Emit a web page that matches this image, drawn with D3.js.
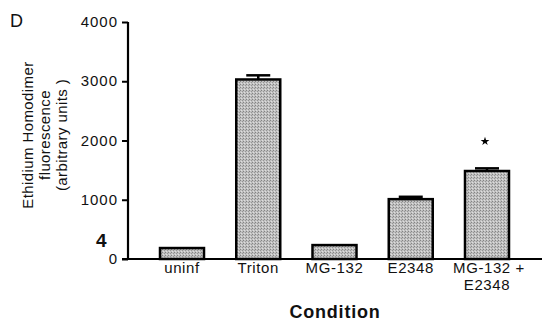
<!DOCTYPE html>
<html>
<head>
<meta charset="utf-8">
<script src="https://cdn.jsdelivr.net/npm/d3@7"></script>
<style>
  body { margin: 0; background: #fff; }
  text { font-family: "Liberation Sans", Arial, sans-serif; fill: #111; }
</style>
</head>
<body>
<svg width="542" height="322"></svg>
<script>
// data
var conditions = ["uninf", "Triton", "MG-132", "E2348", "MG-132 +\nE2348"];
var means = [185, 3030, 235, 1010, 1485];
var errors = [0, 70, 0, 40, 45];
var yTicks = [0, 1000, 2000, 3000, 4000];

var svg = d3.select("svg");

// stippled grey fill
var pat = svg.append("defs").append("pattern")
  .attr("id", "stip")
  .attr("width", 3).attr("height", 3)
  .attr("patternUnits", "userSpaceOnUse");
pat.append("rect").attr("width", 3).attr("height", 3).attr("fill", "#c0c0c0");
pat.append("rect").attr("x", 0).attr("y", 0).attr("width", 1).attr("height", 1).attr("fill", "#848484");
pat.append("rect").attr("x", 2).attr("y", 1).attr("width", 1).attr("height", 1).attr("fill", "#969696");
pat.append("rect").attr("x", 1).attr("y", 2).attr("width", 1).attr("height", 1).attr("fill", "#dedede");

var y = d3.scaleLinear().domain([0, 4000]).range([259, 22]);
var x = d3.scalePoint().domain(conditions).range([182, 487]);
var barW = 44;

// y axis
var yAxis = svg.append("g")
  .attr("transform", "translate(128,0)")
  .call(d3.axisLeft(y).tickValues(yTicks).tickSize(6).tickPadding(4).tickFormat(d3.format("d")));
yAxis.select(".domain").attr("stroke", "#000").attr("stroke-width", 2.2).attr("d", "M0,22V259");
yAxis.selectAll(".tick line").attr("stroke", "#000").attr("stroke-width", 2);
yAxis.selectAll(".tick text")
  .attr("font-size", 15).attr("letter-spacing", 1)
  .attr("font-family", "Liberation Sans, Arial, sans-serif")
  .attr("fill", "#111").attr("dy", "0.3em");

// x axis baseline
svg.append("line")
  .attr("x1", 122).attr("x2", 542)
  .attr("y1", y(0)).attr("y2", y(0))
  .attr("stroke", "#000").attr("stroke-width", 2.2);

// bars
svg.selectAll("rect.bar")
  .data(conditions)
  .enter().append("rect")
  .attr("class", "bar")
  .attr("x", (d) => x(d) - barW / 2)
  .attr("y", (d, i) => y(means[i]))
  .attr("width", barW)
  .attr("height", (d, i) => y(0) - y(means[i]))
  .attr("fill", "url(#stip)")
  .attr("stroke", "#000")
  .attr("stroke-width", 2.5);

// error bars
var eb = svg.selectAll("g.err")
  .data(conditions.filter((d, i) => errors[i] > 0))
  .enter().append("g").attr("class", "err");
eb.append("line")
  .attr("x1", (d) => x(d)).attr("x2", (d) => x(d))
  .attr("y1", (d) => y(means[conditions.indexOf(d)]))
  .attr("y2", (d) => y(means[conditions.indexOf(d)] + errors[conditions.indexOf(d)]))
  .attr("stroke", "#000").attr("stroke-width", 2.5);
eb.append("line")
  .attr("x1", (d) => x(d) - 12).attr("x2", (d) => x(d) + 12)
  .attr("y1", (d) => y(means[conditions.indexOf(d)] + errors[conditions.indexOf(d)]))
  .attr("y2", (d) => y(means[conditions.indexOf(d)] + errors[conditions.indexOf(d)]))
  .attr("stroke", "#000").attr("stroke-width", 2.5);

// significance star
svg.append("path")
  .attr("d", d3.symbol().type(d3.symbolStar).size(24)())
  .attr("transform", "translate(" + (x(conditions[4]) - 2) + "," + (y(means[4] + errors[4]) - 27) + ")")
  .attr("fill", "#000");

// category labels
var lab = svg.selectAll("text.cat")
  .data(conditions)
  .enter().append("text")
  .attr("class", "cat")
  .attr("text-anchor", "middle")
  .attr("font-size", 15)
  .attr("letter-spacing", 0.6)
  .attr("y", 273);
lab.each(function(d) {
  var parts = d.split("\n");
  var t = d3.select(this);
  parts.forEach(function(p, k) {
    t.append("tspan").attr("x", x(d) + (k == 0 && parts.length > 1 ? 2 : 0))
      .attr("dy", k == 0 ? 0 : 17).text(p);
  });
});

// x title
svg.append("text")
  .attr("x", 335).attr("y", 318)
  .attr("text-anchor", "middle")
  .attr("font-size", 18).attr("font-weight", "bold")
  .attr("letter-spacing", 0.8)
  .text("Condition");

// y title
var yt = svg.append("text")
  .attr("transform", "translate(0,135) rotate(-90)")
  .attr("text-anchor", "middle")
  .attr("font-size", 15)
  .attr("letter-spacing", 0.4);
[["Ethidium Homodimer", 33], ["fluorescence", 50], ["(arbitrary units )", 67]].forEach(function(l) {
  yt.append("tspan").attr("x", 0).attr("y", l[1]).text(l[0]);
});

// panel letter and stray mark
svg.append("text").attr("x", 10).attr("y", 27).attr("font-size", 18).text("D");
svg.append("text").attr("x", 96).attr("y", 247).attr("font-size", 19).attr("font-weight", "bold").text("4");
</script>
</body>
</html>
